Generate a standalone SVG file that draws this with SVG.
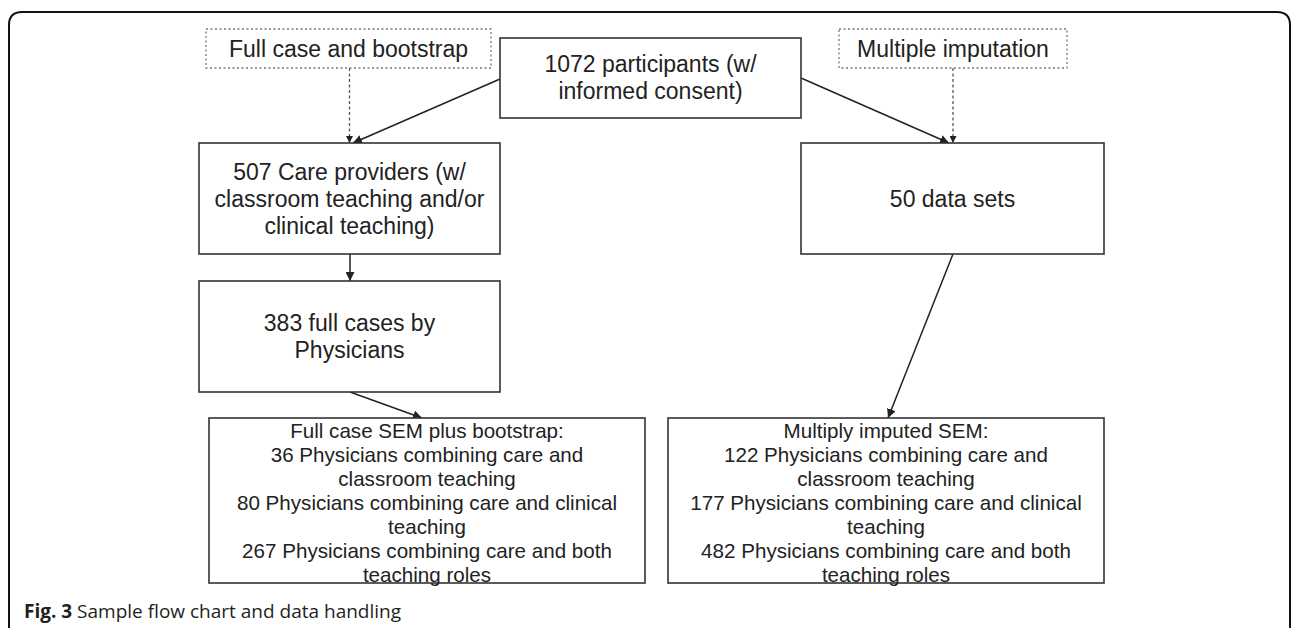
<svg xmlns="http://www.w3.org/2000/svg" width="1292" height="628" viewBox="0 0 1292 628">
  <style>
    .box { fill: #fff; stroke: #333; stroke-width: 1.6; }
    .dbox { fill: #fff; stroke: #777; stroke-width: 1.3; stroke-dasharray: 2 2.5; }
    .t { font-family: "Liberation Sans", Arial, sans-serif; font-size: 23px; fill: #222; text-anchor: middle; }
    .ts { font-family: "Liberation Sans", Arial, sans-serif; font-size: 20.6px; fill: #222; text-anchor: middle; }
    .edge { fill: none; stroke: #222; stroke-width: 1.5; }
    .dedge { fill: none; stroke: #555; stroke-width: 1.3; stroke-dasharray: 3 2.5; }
    .cap { font-family: "Open Sans", "Noto Sans", sans-serif; font-size: 19px; fill: #231f20; }
  </style>
  <defs>
    <marker id="arr" viewBox="0 0 10 10" refX="10" refY="5" markerWidth="7" markerHeight="7" markerUnits="userSpaceOnUse" orient="auto">
      <path d="M0,0 L10,5 L0,10 z" fill="#222"/>
    </marker>
    <marker id="arrL" viewBox="0 0 10 10" refX="10" refY="5" markerWidth="9" markerHeight="9" markerUnits="userSpaceOnUse" orient="auto">
      <path d="M0,0 L10,5 L0,10 z" fill="#222"/>
    </marker>
  </defs>

  <rect width="1292" height="628" fill="#fff"/>
  <path id="frame" d="M9,628 V25 Q9,12 22,12 H1277 Q1290,12 1290,25 V628" fill="none" stroke="#111" stroke-width="2"/>

  <g id="connectors">
    <line class="dedge" x1="349.5" y1="68" x2="349.5" y2="143" marker-end="url(#arr)"/>
    <line class="dedge" x1="953" y1="68" x2="953" y2="143" marker-end="url(#arr)"/>
    <line class="edge" x1="500" y1="79" x2="353" y2="143" marker-end="url(#arrL)"/>
    <line class="edge" x1="801" y1="78" x2="949" y2="143" marker-end="url(#arrL)"/>
    <line class="edge" x1="350" y1="254" x2="350" y2="281" marker-end="url(#arrL)"/>
    <line class="edge" x1="350" y1="392" x2="422" y2="418" marker-end="url(#arrL)"/>
    <line class="edge" x1="953" y1="254" x2="888" y2="418" marker-end="url(#arrL)"/>
  </g>

  <g id="full-case">
    <rect class="dbox" x="206" y="29" width="285" height="39"/>
    <text class="t" x="348.5" y="57">Full case and bootstrap</text>
  </g>

  <g id="participants">
    <rect class="box" x="500" y="38" width="301" height="80"/>
    <text class="t" x="650.5" y="72">1072 participants (w/</text>
    <text class="t" x="650.5" y="99">informed consent)</text>
  </g>

  <g id="multiple-imputation">
    <rect class="dbox" x="839" y="29" width="228" height="39"/>
    <text class="t" x="953" y="57">Multiple imputation</text>
  </g>

  <g id="care-providers">
    <rect class="box" x="199" y="143" width="301" height="111"/>
    <text class="t" x="349.5" y="180">507 Care providers (w/</text>
    <text class="t" x="349.5" y="207">classroom teaching and/or</text>
    <text class="t" x="349.5" y="234">clinical teaching)</text>
  </g>

  <g id="data-sets">
    <rect class="box" x="801" y="143" width="303" height="111"/>
    <text class="t" x="952.5" y="207">50 data sets</text>
  </g>

  <g id="full-cases">
    <rect class="box" x="199" y="281" width="301" height="111"/>
    <text class="t" x="349.5" y="330.5">383 full cases by</text>
    <text class="t" x="349.5" y="357.5">Physicians</text>
  </g>

  <g id="full-case-sem">
    <rect class="box" x="209" y="418" width="436" height="165"/>
    <text class="ts" x="427" y="437.5">Full case SEM plus bootstrap:</text>
    <text class="ts" x="427" y="461.5">36 Physicians combining care and</text>
    <text class="ts" x="427" y="485.5">classroom teaching</text>
    <text class="ts" x="427" y="509.5">80 Physicians combining care and clinical</text>
    <text class="ts" x="427" y="533.5">teaching</text>
    <text class="ts" x="427" y="557.5">267 Physicians combining care and both</text>
    <text class="ts" x="427" y="581.5">teaching roles</text>
  </g>

  <g id="multiply-imputed-sem">
    <rect class="box" x="668" y="418" width="436" height="165"/>
    <text class="ts" x="886" y="437.5">Multiply imputed SEM:</text>
    <text class="ts" x="886" y="461.5">122 Physicians combining care and</text>
    <text class="ts" x="886" y="485.5">classroom teaching</text>
    <text class="ts" x="886" y="509.5">177 Physicians combining care and clinical</text>
    <text class="ts" x="886" y="533.5">teaching</text>
    <text class="ts" x="886" y="557.5">482 Physicians combining care and both</text>
    <text class="ts" x="886" y="581.5">teaching roles</text>
  </g>

  <text class="cap" x="24" y="618"><tspan font-weight="bold">Fig. 3</tspan> Sample flow chart and data handling</text>
</svg>
